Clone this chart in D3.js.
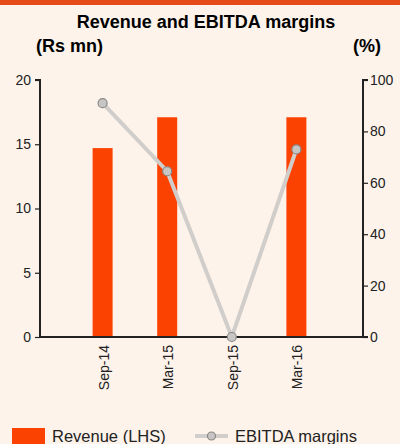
<!DOCTYPE html>
<html><head><meta charset="utf-8">
<script src="https://cdn.jsdelivr.net/npm/d3@7"></script>
<style>html,body{margin:0;padding:0;background:#fdf3ea;}svg{display:block;}</style>
</head><body>
<svg id="c" width="400" height="444"></svg>
<script>
const categories = ["Sep-14","Mar-15","Sep-15","Mar-16"];
const revenue = [14.7, 17.1, null, 17.1];
const ebitdaMargin = [91, 64.5, 0, 73];
const leftTicks = [0,5,10,15,20];
const rightTicks = [0,20,40,60,80,100];

const svg = d3.select("#c");
const font = "'Liberation Sans', Arial, sans-serif";
svg.append("rect").attr("x",0).attr("y",0).attr("width",400).attr("height",444).attr("fill","#fdf3ea");
svg.append("rect").attr("x",0).attr("y",0).attr("width",400).attr("height",5).attr("fill","#e64a19");

const L = 40, R = 363, T = 80, B = 337;
const x = d3.scalePoint().domain(categories).range([L-2, R-2]).padding(1);
const yL = d3.scaleLinear().domain([0,20]).range([B,T]);
const yR = d3.scaleLinear().domain([0,100]).range([B,T]);

svg.append("text").attr("x",206).attr("y",28).attr("text-anchor","middle")
  .attr("font-family",font).attr("font-weight","bold").attr("font-size",18).attr("fill","#000")
  .text("Revenue and EBITDA margins");
svg.append("text").attr("x",36).attr("y",52).attr("font-family",font).attr("font-weight","bold").attr("font-size",18).text("(Rs mn)");
svg.append("text").attr("x",381).attr("y",52).attr("text-anchor","end").attr("font-family",font).attr("font-weight","bold").attr("font-size",18).text("(%)");

// bars
const bw = 20;
svg.append("g").selectAll("rect").data(categories.map((c,i)=>({c,v:revenue[i]})).filter(d=>d.v!=null))
  .enter().append("rect")
  .attr("x",d=>x(d.c)-bw/2).attr("width",bw)
  .attr("y",d=>yL(d.v)).attr("height",d=>yL(0)-yL(d.v))
  .attr("fill","#fc4200");

// axes
const axL = svg.append("g").attr("transform",`translate(${L},0)`)
  .call(d3.axisLeft(yL).tickValues(leftTicks).tickSize(5).tickPadding(4));
const axR = svg.append("g").attr("transform",`translate(${R},0)`)
  .call(d3.axisRight(yR).tickValues(rightTicks).tickSize(5).tickPadding(2));
[axL,axR].forEach(a=>{
  a.select(".domain").attr("stroke","#222").attr("stroke-width",2).attr("d", a===axL?`M-5,${T}H0V${B}`:`M5,${T}H0V${B}H5`);
  a.selectAll(".tick line").attr("stroke","#222").attr("stroke-width",1.2);
  a.selectAll(".tick text").attr("font-family",font).attr("font-size",14).attr("fill","#222");
});
svg.append("line").attr("x1",L).attr("x2",R).attr("y1",yL(0)).attr("y2",yL(0)).attr("stroke","#222").attr("stroke-width",2);

// category labels
svg.append("g").selectAll("text").data(categories).enter().append("text")
  .attr("transform",d=>`translate(${x(d)+1},345) rotate(-90)`)
  .attr("text-anchor","end").attr("dominant-baseline","central")
  .attr("font-family",font).attr("font-size",14).attr("fill","#222").text(d=>d);

// line
const line = d3.line().x((d,i)=>x(categories[i])).y(d=>yR(d));
svg.append("path").datum(ebitdaMargin).attr("d",line).attr("fill","none")
  .attr("stroke","#d0cdca").attr("stroke-width",4);
svg.append("g").selectAll("circle").data(ebitdaMargin).enter().append("circle")
  .attr("cx",(d,i)=>x(categories[i])).attr("cy",d=>yR(d)).attr("r",4.5)
  .attr("fill","#c8c6c4").attr("stroke","#8a8886").attr("stroke-width",1.2);

// legend
svg.append("rect").attr("x",12).attr("y",428).attr("width",33).attr("height",16).attr("fill","#fc4200");
svg.append("text").attr("x",52).attr("y",442).attr("font-family",font).attr("font-size",16.5).attr("fill","#222").text("Revenue (LHS)");
svg.append("line").attr("x1",195).attr("x2",228).attr("y1",436).attr("y2",436).attr("stroke","#d0cdca").attr("stroke-width",4);
svg.append("circle").attr("cx",211.5).attr("cy",436).attr("r",4).attr("fill","#c8c6c4").attr("stroke","#8a8886").attr("stroke-width",1.2);
svg.append("text").attr("x",235).attr("y",442).attr("font-family",font).attr("font-size",16.5).attr("fill","#222").text("EBITDA margins");
</script>
</body></html>
